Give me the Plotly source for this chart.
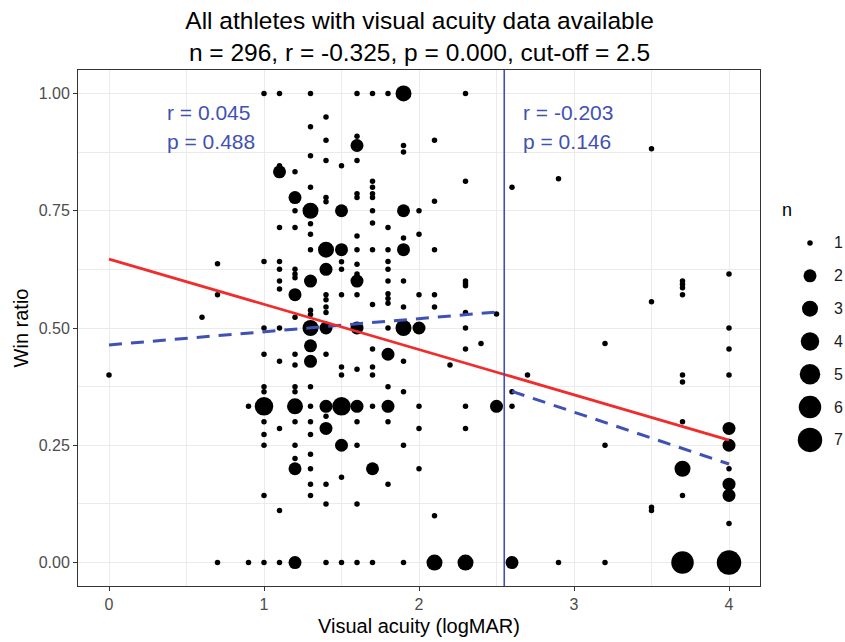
import plotly.graph_objects as go

# ---------------- data ----------------
# one entry per plotted point: visual acuity (logMAR), win ratio, number of athletes
visual_acuity = [
    0.0,
    0.6,
    0.7, 0.7, 0.7,
    0.9, 0.9,
    1.0, 1.0, 1.0, 1.0, 1.0, 1.0, 1.0, 1.0, 1.0, 1.0, 1.0, 1.0,
    1.1, 1.1, 1.1, 1.1, 1.1, 1.1, 1.1, 1.1, 1.1, 1.1, 1.1, 1.1, 1.1,
    1.2, 1.2, 1.2, 1.2, 1.2, 1.2, 1.2, 1.2, 1.2, 1.2, 1.2, 1.2, 1.2, 1.2, 1.2, 1.2, 1.2, 1.2, 1.2,
    1.3, 1.3, 1.3, 1.3, 1.3, 1.3, 1.3, 1.3, 1.3, 1.3, 1.3, 1.3, 1.3, 1.3, 1.3, 1.3, 1.3, 1.3, 1.3, 1.3, 1.3, 1.3,
    1.4, 1.4, 1.4, 1.4, 1.4, 1.4, 1.4, 1.4, 1.4, 1.4, 1.4, 1.4, 1.4, 1.4, 1.4, 1.4, 1.4, 1.4, 1.4,
    1.5, 1.5, 1.5, 1.5, 1.5, 1.5, 1.5, 1.5, 1.5, 1.5, 1.5, 1.5,
    1.6, 1.6, 1.6, 1.6, 1.6, 1.6, 1.6, 1.6, 1.6, 1.6, 1.6, 1.6, 1.6, 1.6, 1.6, 1.6, 1.6, 1.6, 1.6,
    1.7, 1.7, 1.7, 1.7, 1.7, 1.7, 1.7, 1.7, 1.7, 1.7, 1.7, 1.7, 1.7, 1.7, 1.7,
    1.8, 1.8, 1.8, 1.8, 1.8, 1.8, 1.8, 1.8, 1.8, 1.8, 1.8, 1.8, 1.8, 1.8, 1.8,
    1.9, 1.9, 1.9, 1.9, 1.9, 1.9, 1.9, 1.9, 1.9, 1.9, 1.9, 1.9, 1.9,
    2.0, 2.0, 2.0, 2.0, 2.0, 2.0, 2.0,
    2.1, 2.1, 2.1, 2.1, 2.1, 2.1, 2.1,
    2.2,
    2.3, 2.3, 2.3, 2.3, 2.3, 2.3, 2.3, 2.3, 2.3, 2.3, 2.3,
    2.4,
    2.5, 2.5,
    2.6, 2.6, 2.6, 2.6,
    2.7,
    2.9, 2.9,
    3.2, 3.2, 3.2,
    3.5, 3.5, 3.5, 3.5,
    3.7, 3.7, 3.7, 3.7, 3.7, 3.7, 3.7, 3.7, 3.7, 3.7,
    4.0, 4.0, 4.0, 4.0, 4.0, 4.0, 4.0, 4.0, 4.0, 4.0, 4.0,
]
win_ratio = [
    0.40,
    0.523,
    0.637, 0.571, 0.0,
    0.333, 0.0,
    1.0, 0.642, 0.50, 0.444, 0.375, 0.364, 0.333, 0.30, 0.273, 0.25, 0.143, 0.0,
    1.0, 0.846, 0.833, 0.714, 0.642, 0.625, 0.60, 0.583, 0.50, 0.429, 0.286, 0.111, 0.0,
    0.833, 0.778, 0.75, 0.714, 0.625, 0.615, 0.607, 0.571, 0.523, 0.444, 0.421, 0.375, 0.364, 0.333, 0.30, 0.25, 0.222, 0.20, 0.0,
    1.0, 0.929, 0.867, 0.80, 0.75, 0.722, 0.70, 0.667, 0.60, 0.538, 0.529, 0.50, 0.462, 0.429, 0.375, 0.333, 0.30, 0.273, 0.231, 0.20, 0.167, 0.143,
    0.95, 0.90, 0.857, 0.778, 0.769, 0.667, 0.625, 0.571, 0.56, 0.545, 0.533, 0.50, 0.444, 0.333, 0.312, 0.286, 0.167, 0.125, 0.0,
    0.846, 0.75, 0.667, 0.641, 0.625, 0.571, 0.417, 0.40, 0.333, 0.25, 0.182, 0.0,
    1.0, 0.909, 0.889, 0.857, 0.786, 0.778, 0.696, 0.667, 0.636, 0.615, 0.60, 0.571, 0.50, 0.412, 0.333, 0.30, 0.25, 0.125, 0.0,
    1.0, 0.813, 0.80, 0.786, 0.778, 0.75, 0.724, 0.667, 0.55, 0.455, 0.417, 0.40, 0.333, 0.20, 0.0,
    1.0, 0.714, 0.667, 0.642, 0.625, 0.60, 0.573, 0.563, 0.553, 0.50, 0.444, 0.375, 0.333, 0.30, 0.167,
    1.0, 0.889, 0.875, 0.75, 0.692, 0.667, 0.60, 0.545, 0.50, 0.429, 0.364, 0.25, 0.0,
    0.75, 0.70, 0.571, 0.50, 0.333, 0.286, 0.20,
    0.90, 0.77, 0.667, 0.571, 0.545, 0.10, 0.0,
    0.421,
    1.0, 0.813, 0.60, 0.595, 0.59, 0.533, 0.50, 0.455, 0.333, 0.286, 0.0,
    0.467,
    0.53, 0.333,
    0.80, 0.364, 0.333, 0.0,
    0.40,
    0.818, 0.0,
    0.467, 0.25, 0.0,
    0.882, 0.556, 0.118, 0.111,
    0.60, 0.593, 0.586, 0.571, 0.40, 0.385, 0.30, 0.20, 0.143, 0.0,
    0.615, 0.50, 0.455, 0.40, 0.286, 0.25, 0.20, 0.167, 0.143, 0.083, 0.0,
]
n_athletes = [
    1,
    1,
    1, 1, 1,
    1, 1,
    1, 1, 1, 1, 1, 1, 4, 1, 1, 1, 1, 1,
    1, 1, 2, 1, 1, 1, 1, 1, 1, 1, 1, 1, 1,
    1, 2, 1, 1, 1, 1, 1, 2, 1, 1, 1, 1, 1, 3, 1, 1, 1, 2, 2,
    1, 1, 1, 1, 3, 1, 1, 1, 2, 1, 1, 3, 2, 2, 1, 1, 1, 1, 1, 1, 1, 1,
    1, 1, 1, 1, 1, 3, 2, 1, 1, 1, 1, 2, 1, 2, 1, 2, 1, 1, 1,
    1, 2, 2, 1, 1, 1, 1, 1, 4, 2, 1, 1,
    1, 1, 2, 1, 1, 1, 1, 1, 1, 1, 2, 1, 2, 1, 2, 1, 1, 1, 1,
    1, 1, 1, 1, 1, 1, 1, 1, 1, 1, 1, 1, 1, 2, 1,
    1, 1, 1, 1, 1, 1, 1, 1, 1, 1, 2, 1, 2, 1, 1,
    3, 1, 1, 2, 1, 2, 1, 1, 3, 1, 1, 1, 1,
    1, 1, 1, 2, 1, 1, 1,
    1, 1, 1, 1, 1, 1, 3,
    1,
    1, 1, 1, 1, 1, 1, 1, 1, 1, 1, 3,
    1,
    1, 2,
    1, 1, 1, 2,
    1,
    1, 1,
    1, 1, 1,
    1, 1, 1, 1,
    1, 1, 1, 1, 1, 1, 1, 3, 1, 6,
    1, 1, 1, 1, 2, 2, 1, 2, 2, 1, 7,
]
assert len(visual_acuity) == len(win_ratio) == len(n_athletes)

# regression lines (end points)
fit_all_x = [0.0, 4.0]
fit_all_y = [0.647, 0.261]
fit_low_x = [0.0, 2.5]
fit_low_y = [0.464, 0.534]
fit_high_x = [2.6, 4.0]
fit_high_y = [0.365, 0.210]
cutoff_x = 2.55

legend_levels = [1, 2, 3, 4, 5, 6, 7]
x_ticks = [0, 1, 2, 3, 4]
y_ticks = [0.0, 0.25, 0.5, 0.75, 1.0]

title_text = ("All athletes with visual acuity data available<br>"
              "n = 296, r = -0.325, p = 0.000, cut-off = 2.5")
left_stats = ["r = 0.045", "p = 0.488"]
right_stats = ["r = -0.203", "p = 0.146"]

# ---------------- styles ----------------
SIZE_PX = {1: 5.5, 2: 13, 3: 16, 4: 18.5, 5: 20.5, 6: 22.5, 7: 24.5}
FONT = "Liberation Sans, Arial, sans-serif"
BLUE = "#3F51B5"
RED = "#F02C2C"
GRID = "#EBEBEB"
BORDER = "#333333"

fig = go.Figure()

fig.add_trace(go.Scatter(
    x=visual_acuity, y=win_ratio, mode="markers",
    marker=dict(color="black", opacity=1, size=[SIZE_PX[k] for k in n_athletes],
                line=dict(width=0)),
    showlegend=False, hoverinfo="skip", xaxis="x", yaxis="y"))

fig.add_trace(go.Scatter(x=fit_low_x, y=fit_low_y, mode="lines",
                         line=dict(color=BLUE, width=3, dash="13px,9px"),
                         showlegend=False, xaxis="x", yaxis="y"))
fig.add_trace(go.Scatter(x=fit_high_x, y=fit_high_y, mode="lines",
                         line=dict(color=BLUE, width=3, dash="13px,9px"),
                         showlegend=False, xaxis="x", yaxis="y"))
fig.add_trace(go.Scatter(x=fit_all_x, y=fit_all_y, mode="lines",
                         line=dict(color=RED, width=2.8),
                         showlegend=False, xaxis="x", yaxis="y"))

# size legend drawn on its own small axes (x2 range in pixels from its left edge)
fig.add_trace(go.Scatter(
    x=[35] * len(legend_levels), y=legend_levels, mode="markers",
    marker=dict(color="black", opacity=1, size=[SIZE_PX[k] for k in legend_levels],
                line=dict(width=0)),
    showlegend=False, hoverinfo="skip", xaxis="x2", yaxis="y2"))

fig.add_shape(type="line", xref="x", yref="y domain", x0=cutoff_x, x1=cutoff_x, y0=0, y1=1,
              line=dict(color=BLUE, width=1.6), layer="above")

annotations = []
for i, t in enumerate(left_stats):
    annotations.append(dict(text=t, x=0.36, y=[0.959, 0.897][i], xref="x", yref="y",
                            xanchor="left", yanchor="middle", showarrow=False,
                            font=dict(family=FONT, size=21, color=BLUE)))
for i, t in enumerate(right_stats):
    annotations.append(dict(text=t, x=2.66, y=[0.959, 0.897][i], xref="x", yref="y",
                            xanchor="left", yanchor="middle", showarrow=False,
                            font=dict(family=FONT, size=21, color=BLUE)))
annotations.append(dict(text="n", x=12, y=0.0, xref="x2", yref="y2", xanchor="center",
                        yanchor="middle", showarrow=False,
                        font=dict(family=FONT, size=18, color="black")))
for k in legend_levels:
    annotations.append(dict(text=str(k), x=63, y=k, xref="x2", yref="y2", xanchor="center",
                            yanchor="middle", showarrow=False,
                            font=dict(family=FONT, size=16, color="#1A1A1A")))

axis_common = dict(
    showgrid=True, gridcolor=GRID, gridwidth=1.1, zeroline=False,
    showline=True, mirror=True, linecolor=BORDER, linewidth=1,
    ticks="outside", ticklen=4, tickwidth=1, tickcolor=BORDER,
    tickfont=dict(family=FONT, size=16, color="#4D4D4D"),
)

fig.update_layout(
    width=845, height=642,
    margin=dict(l=78, r=0, t=70, b=56),
    paper_bgcolor="white", plot_bgcolor="white",
    font=dict(family=FONT),
    title=dict(text=title_text, x=0.4965, xref="container", xanchor="center",
               y=1 - 29 / 642, yref="container", yanchor="middle",
               font=dict(family=FONT, size=24.5, color="black")),
    xaxis=dict(domain=[0, 682 / 767], range=[-0.2, 4.2], tickmode="array", tickvals=x_ticks,
               ticktext=[str(v) for v in x_ticks],
               minor=dict(tickvals=[-0.5, 0.5, 1.5, 2.5, 3.5], showgrid=True, gridcolor=GRID,
                          gridwidth=0.6, ticks=""),
               title=dict(text="Visual acuity (logMAR)", standoff=6,
                          font=dict(family=FONT, size=20, color="black")),
               anchor="y", **axis_common),
    yaxis=dict(domain=[0, 1], range=[-0.05, 1.05], tickmode="array", tickvals=y_ticks,
               ticktext=[f"{v:.2f}" for v in y_ticks],
               minor=dict(tickvals=[0.125, 0.375, 0.625, 0.875], showgrid=True, gridcolor=GRID,
                          gridwidth=0.6, ticks=""),
               title=dict(text="Win ratio", standoff=4,
                          font=dict(family=FONT, size=20, color="black")),
               anchor="x", **axis_common),
    xaxis2=dict(domain=[697 / 767, 1], range=[0, 70], visible=False, anchor="y2"),
    yaxis2=dict(domain=[0, 1], range=[11.45, -4.27], visible=False, anchor="x2"),
    annotations=annotations,
)

fig.write_html("out.html")
